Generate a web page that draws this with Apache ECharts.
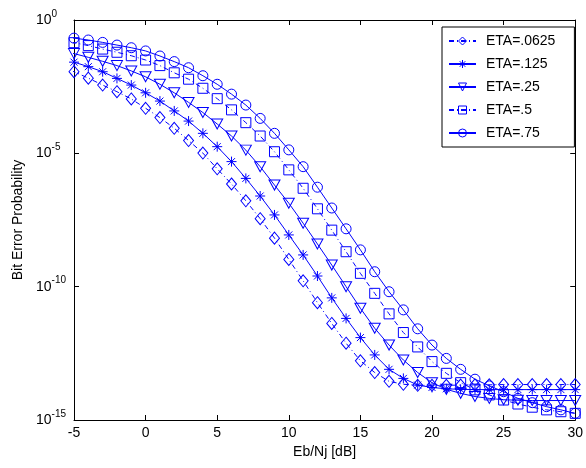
<!DOCTYPE html>
<html>
<head>
<meta charset="utf-8">
<script src="https://cdn.jsdelivr.net/npm/echarts@6/dist/echarts.min.js"></script>
<style>
  html, body { margin: 0; padding: 0; background: #fff; }
  #chart { width: 586px; height: 468px; }
</style>
</head>
<body>
<div id="chart"></div>
<script>
// Eb/Nj in dB (one sample per dB; the first one lies just left of the axis)
const ebnj = [-6, -5, -4, -3, -2, -1, 0, 1, 2, 3, 4, 5, 6, 7, 8, 9, 10, 11, 12,
  13, 14, 15, 16, 17, 18, 19, 20, 21, 22, 23, 24, 25, 26, 27, 28, 29, 30];

// log10 of the bit error probability for each duty factor ETA
const eta0625 = [-1.72, -1.94, -2.18, -2.44, -2.69, -2.96, -3.31, -3.66, -4.06, -4.52,
  -4.99, -5.58, -6.15, -6.78, -7.45, -8.18, -8.98, -9.78, -10.6, -11.38, -12.12,
  -12.78, -13.22, -13.55, -13.66, -13.7, -13.7, -13.7, -13.69, -13.68, -13.68,
  -13.67, -13.67, -13.67, -13.67, -13.67, -13.67];
const eta125 = [-1.42, -1.58, -1.75, -1.94, -2.19, -2.44, -2.73, -3.04, -3.41, -3.79,
  -4.25, -4.75, -5.31, -5.94, -6.6, -7.31, -8.06, -8.81, -9.6, -10.42, -11.19,
  -11.91, -12.56, -13.1, -13.44, -13.69, -13.78, -13.83, -13.85, -13.86, -13.86,
  -13.86, -13.86, -13.86, -13.86, -13.86, -13.86];
const eta25 = [-1.12, -1.26, -1.4, -1.55, -1.71, -1.91, -2.13, -2.41, -2.73, -3.09,
  -3.47, -3.9, -4.35, -4.88, -5.5, -6.19, -6.87, -7.62, -8.4, -9.19, -10.0,
  -10.81, -11.56, -12.19, -12.75, -13.22, -13.6, -13.85, -14.0, -14.12, -14.19,
  -14.24, -14.26, -14.27, -14.27, -14.27, -14.27];
const eta5 = [-0.75, -0.85, -0.96, -1.09, -1.21, -1.34, -1.5, -1.71, -1.98, -2.22,
  -2.56, -2.95, -3.37, -3.85, -4.35, -4.94, -5.62, -6.31, -7.08, -7.88, -8.69,
  -9.5, -10.25, -11.02, -11.72, -12.26, -12.81, -13.25, -13.6, -13.87, -14.06,
  -14.25, -14.4, -14.52, -14.62, -14.69, -14.75];
const eta75 = [-0.62, -0.68, -0.75, -0.84, -0.94, -1.04, -1.16, -1.35, -1.56, -1.79,
  -2.09, -2.41, -2.78, -3.19, -3.69, -4.25, -4.87, -5.5, -6.27, -7.05, -7.83,
  -8.62, -9.44, -10.19, -10.87, -11.58, -12.19, -12.69, -13.1, -13.47, -13.72,
  -13.94, -14.19, -14.35, -14.5, -14.62, -14.75];

const seriesNames = ['ETA=.0625', 'ETA=.125', 'ETA=.25', 'ETA=.5', 'ETA=.75'];
const xTicks = [-5, 0, 5, 10, 15, 20, 25, 30];
const yDecades = [-15, -10, -5, 0];

const BLUE = '#0000ff';
const FONT = '"Liberation Sans", Arial, sans-serif';
const DASHDOT = [5, 3, 1, 3];
const ASTERISK = 'path://M5 0L5 10M0 5L10 5M1.5 1.5L8.5 8.5M8.5 1.5L1.5 8.5';

function pairs(vals) {
  return ebnj.map((x, i) => [x, vals[i]]);
}

function makeSeries(name, vals, symbol, size, dashed, rotate) {
  return {
    name: name,
    type: 'line',
    data: pairs(vals),
    symbol: symbol,
    symbolSize: size,
    symbolRotate: rotate || 0,
    showAllSymbol: true,
    clip: true,
    animation: false,
    lineStyle: { color: BLUE, width: 1, type: dashed ? DASHDOT : 'solid' },
    itemStyle: { color: 'transparent', borderColor: BLUE, borderWidth: 1 },
    emphasis: { disabled: true }
  };
}

const chart = echarts.init(document.getElementById('chart'), null, { renderer: 'canvas' });

const axisCommon = {
  axisLine: { show: true, onZero: false, lineStyle: { color: '#000', width: 1 } },
  axisTick: { show: true, inside: true, length: 5, lineStyle: { color: '#000' } },
  splitLine: { show: false }
};

chart.setOption({
  backgroundColor: '#fff',
  animation: false,
  grid: { left: 74, top: 20, right: 4, bottom: 48, containLabel: false },
  legend: {
    orient: 'vertical',
    left: 442,
    top: 27,
    data: seriesNames,
    itemWidth: 27,
    itemHeight: 10,
    itemGap: 9,
    padding: [7, 19, 7, 6],
    backgroundColor: '#fff',
    borderColor: '#000',
    borderWidth: 1,
    borderRadius: 0,
    selectedMode: false,
    itemStyle: { color: 'transparent', borderColor: BLUE, borderWidth: 1 },
    textStyle: { color: '#000', fontFamily: FONT, fontSize: 14, padding: [0, 0, 0, 5] }
  },
  xAxis: [
    Object.assign({}, axisCommon, {
      type: 'value', min: -5, max: 30, interval: 5, position: 'bottom',
      name: 'Eb/Nj [dB]', nameLocation: 'middle', nameGap: 24,
      nameTextStyle: { color: '#000', fontFamily: FONT, fontSize: 14 },
      axisLabel: {
        color: '#000', fontFamily: FONT, fontSize: 14, margin: 6,
        formatter: v => (xTicks.indexOf(v) >= 0 ? String(v) : '')
      }
    }),
    Object.assign({}, axisCommon, {
      type: 'value', min: -5, max: 30, interval: 5, position: 'top',
      axisLabel: { show: false }
    })
  ],
  yAxis: [
    Object.assign({}, axisCommon, {
      type: 'value', min: -15, max: 0, interval: 5, position: 'left',
      name: 'Bit Error Probability', nameLocation: 'middle', nameGap: 49, nameRotate: 90,
      nameTextStyle: { color: '#000', fontFamily: FONT, fontSize: 14 },
      axisLabel: {
        align: 'left', margin: 38, color: '#000', fontFamily: FONT,
        formatter: v => (yDecades.indexOf(v) >= 0 ? '{b|10}{s|' + v + '}' : ''),
        rich: {
          b: { fontSize: 14, lineHeight: 22, fontFamily: FONT, color: '#000' },
          s: { fontSize: 10, lineHeight: 10, verticalAlign: 'top', fontFamily: FONT, color: '#000' }
        }
      }
    }),
    Object.assign({}, axisCommon, {
      type: 'value', min: -15, max: 0, interval: 5, position: 'right',
      axisLabel: { show: false }
    })
  ],
  series: [
    makeSeries(seriesNames[0], eta0625, 'diamond', [10, 12], true),
    makeSeries(seriesNames[1], eta125, ASTERISK, 10, false),
    makeSeries(seriesNames[2], eta25, 'triangle', [11, 10], false, 180),
    makeSeries(seriesNames[3], eta5, 'rect', 10, true),
    makeSeries(seriesNames[4], eta75, 'circle', 10, false)
  ]
});
</script>
</body>
</html>
